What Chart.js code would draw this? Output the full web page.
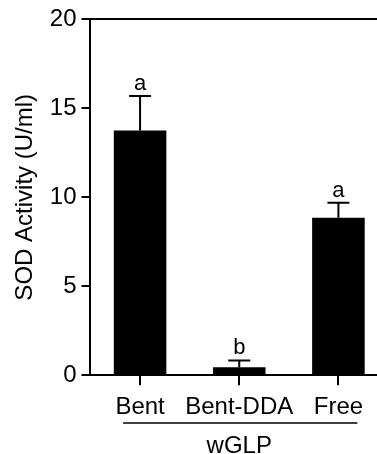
<!DOCTYPE html>
<html>
<head>
<meta charset="utf-8">
<script src="https://cdn.jsdelivr.net/npm/chart.js@4/dist/chart.umd.min.js"></script>
<style>
  html, body { margin: 0; padding: 0; background: #fff; overflow: hidden; }
  #wrap { width: 392px; height: 454px; }
</style>
</head>
<body>
<div id="wrap"><canvas id="grafica"></canvas></div>
<script>
// datos
var grupos = ['Bent', 'Bent-DDA', 'Free'];
var actividad = [13.75, 0.45, 8.85];
var errorSup = [1.95, 0.38, 0.85];
var letras = ['a', 'b', 'a'];
var ticksY = [0, 5, 10, 15, 20];
var grupoTexto = 'wGLP';

var FUENTE = '"Liberation Sans", Arial, sans-serif';

// barras de error (solo hacia arriba) y letras de significancia
var errorBars = {
    id: 'errorBars',
    afterDatasetsDraw: function (chart) {
        var ctx = chart.ctx;
        var y = chart.scales.y;
        var meta = chart.getDatasetMeta(0);
        ctx.save();
        ctx.strokeStyle = '#000';
        ctx.lineWidth = 2;
        ctx.fillStyle = '#000';
        ctx.font = '22px ' + FUENTE;
        ctx.textAlign = 'center';
        ctx.textBaseline = 'alphabetic';
        meta.data.forEach(function (bar, i) {
            var yTop = y.getPixelForValue(actividad[i] + errorSup[i]);
            var yBar = y.getPixelForValue(actividad[i]);
            ctx.beginPath();
            ctx.moveTo(bar.x, yBar);
            ctx.lineTo(bar.x, yTop);
            ctx.moveTo(bar.x - 11, yTop);
            ctx.lineTo(bar.x + 11, yTop);
            ctx.stroke();
            ctx.fillText(letras[i], bar.x, yTop - 6);
        });
        ctx.restore();
    }
};

// linea bajo los grupos y el texto wGLP
var lineaGrupo = {
    id: 'lineaGrupo',
    afterDraw: function (chart) {
        var x = chart.scales.x;
        var ctx = chart.ctx;
        var x0 = x.getPixelForValue(0) - 17;
        var x1 = x.getPixelForValue(2) + 19;
        ctx.save();
        ctx.strokeStyle = '#000';
        ctx.lineWidth = 1.5;
        ctx.beginPath();
        ctx.moveTo(x0, 423);
        ctx.lineTo(x1, 423);
        ctx.stroke();
        ctx.fillStyle = '#000';
        ctx.font = '24px ' + FUENTE;
        ctx.textAlign = 'center';
        ctx.textBaseline = 'middle';
        ctx.fillText(grupoTexto, x.getPixelForValue(1), 446);
        ctx.restore();
    }
};

var ctx1 = document.getElementById('grafica');
var grafica = new Chart(ctx1.getContext('2d'), {
    type: 'bar',
    data: {
        labels: grupos,
        datasets: [{
            data: actividad,
            backgroundColor: '#000',
            borderWidth: 0,
            categoryPercentage: 1,
            barPercentage: 0.53
        }]
    },
    options: {
        responsive: true,
        maintainAspectRatio: false,
        animation: false,
        layout: { padding: { top: 13, right: 4, bottom: 24, left: 11 } },
        plugins: {
            legend: { display: false },
            tooltip: { enabled: false }
        },
        scales: {
            x: {
                grid: {
                    offset: false,
                    drawOnChartArea: false,
                    tickColor: '#000',
                    tickLength: 10,
                    lineWidth: 2
                },
                border: { display: true, color: '#000', width: 2 },
                ticks: {
                    color: '#000',
                    font: { family: FUENTE, size: 24 },
                    padding: 8,
                    autoSkip: false,
                    maxRotation: 0
                }
            },
            y: {
                min: 0,
                max: 20,
                afterBuildTicks: function (scale) {
                    scale.ticks = ticksY.map(function (v) { return { value: v }; });
                },
                grid: {
                    color: function (c) { return c.tick && c.tick.value === 20 ? '#000' : 'rgba(0,0,0,0)'; },
                    tickColor: '#000',
                    tickLength: 9,
                    lineWidth: 2
                },
                border: { display: true, color: '#000', width: 2 },
                ticks: {
                    color: '#000',
                    font: { family: FUENTE, size: 24 },
                    padding: 5
                },
                title: {
                    display: true,
                    text: 'SOD Activity (U/ml)',
                    color: '#000',
                    font: { family: FUENTE, size: 24 },
                    padding: { top: 0, bottom: 5 }
                }
            }
        }
    },
    plugins: [errorBars, lineaGrupo]
});
</script>
</body>
</html>
